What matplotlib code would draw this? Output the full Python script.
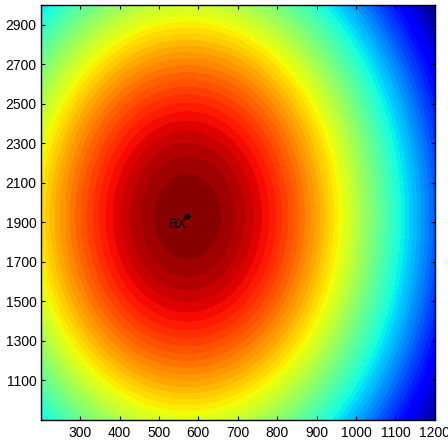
import numpy as np
import matplotlib.pyplot as plt

plt.rcParams['font.family'] = ['Liberation Sans', 'DejaVu Sans']

# access point position and coverage model parameters
ap_x = 572
ap_y = 1930
ap_label = 'ax'
spread = 780        # decay length along x
y_stretch = 2.57    # field is elongated along y by this factor
n_levels = 55

# plot extent and ticks
x_range = [200, 1200]
y_range = [900, 3000]
x_ticks = [300, 400, 500, 600, 700, 800, 900, 1000, 1100, 1200]
y_ticks = [1100, 1300, 1500, 1700, 1900, 2100, 2300, 2500, 2700, 2900]

# signal field over the floor area
x = np.linspace(x_range[0], x_range[1], 500)
y = np.linspace(y_range[0], y_range[1], 500)
X, Y = np.meshgrid(x, y)
r = np.sqrt((X - ap_x)**2 + ((Y - ap_y) / y_stretch)**2)
Z = np.exp(-(r / spread)**2)

fig = plt.figure(figsize=(4.48, 4.41), dpi=100)
ax = fig.add_axes([0.0908, 0.0476, 0.880, 0.941])

levels = np.linspace(Z.min(), Z.max(), n_levels)
ax.contourf(X, Y, Z, levels=levels, cmap='jet')

# access point marker and label
ax.plot(ap_x, ap_y, marker=(8, 2, 0), color='black', markersize=5, markeredgewidth=0.8)
ax.text(ap_x - 50, ap_y - 35, ap_label, ha='left', va='center', fontsize=13, color='#1a0000')

ax.set_xlim(x_range)
ax.set_ylim(y_range)
ax.set_xticks(x_ticks)
ax.set_yticks(y_ticks)
ax.tick_params(direction='in', length=3, width=0.8, top=True, right=True,
               labelsize=10, colors='black')
ax.tick_params(axis='x', pad=4)
ax.tick_params(axis='y', pad=3)
for s in ax.spines.values():
    s.set_linewidth(1.0)

fig.savefig('out.png', dpi=100)
